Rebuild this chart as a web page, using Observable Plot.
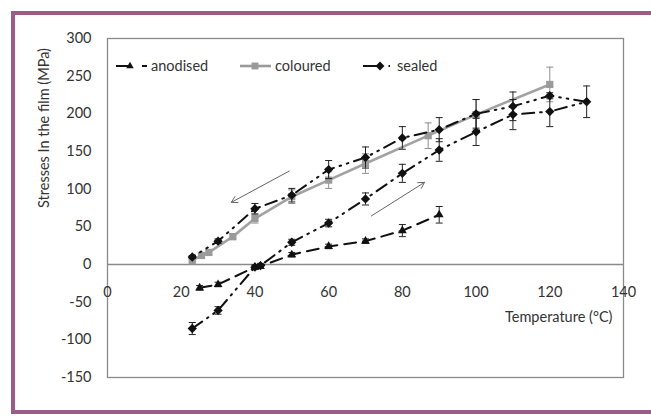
<!DOCTYPE html>
<html>
<head>
<meta charset="utf-8">
<script src="https://cdn.jsdelivr.net/npm/d3@7"></script>
<script src="https://cdn.jsdelivr.net/npm/@observablehq/plot@0.6"></script>
<style>
  html, body { margin: 0; padding: 0; background: #fff; }
  #wrap { position: relative; width: 651px; height: 419px; overflow: hidden; font-family: Lato, "Open Sans", sans-serif; }
  #border { position: absolute; left: 11px; top: 11px; width: 660px; height: 403px; border: 4px solid #9c5c88; border-right: none; box-sizing: border-box; }
  #chart { position: absolute; left: 0; top: 0; }
  #legend { position: absolute; left: 0; top: 0; }
</style>
</head>
<body>
<div id="wrap">
  <div id="border"></div>
  <div id="chart"></div>
  <svg id="legend" width="651" height="419"></svg>
</div>
<script>
// ---- data ----
const anodT = [25, 30, 40, 41.5, 50, 60, 70, 80, 90];
const anodS = [-31, -26.5, -3.5, -2.5, 13, 24, 31, 45, 66];
const anodE = [3, 3, 2, 2, 3, 3, 3, 8, 11];

const colT = [23, 25.5, 27.5, 34, 40, 50, 60, 70, 87, 100, 120];
const colS = [5, 12, 16, 37, 61, 90, 112, 134, 171, 199, 239];
const colE = [2, 3, 3, 4, 6, 9, 11, 13, 17, 20, 23];

const sealT = [23, 30, 40, 41.5, 50, 60, 70, 80, 90, 100, 110, 120, 130, 120, 110, 100, 90, 80, 70, 60, 50, 40, 30, 23];
const sealS = [-85, -61, -3.5, -1.5, 29.5, 55, 87, 121, 152, 176, 199, 203, 216, 224, 210, 200, 179, 168, 142, 126, 92, 74, 31, 10];
const sealE = [8, 5, 3, 3, 4, 5, 8, 12, 15, 18, 20, 20, 21, 4, 19, 19, 16, 15, 14, 12, 9, 7, 3, 2];

const xTicks = [0, 20, 40, 60, 80, 100, 120, 140];
const yTicks = [-150, -100, -50, 0, 50, 100, 150, 200, 250, 300];

const arrowX1 = [49.3, 71.6];
const arrowY1 = [124, 64.5];
const arrowX2 = [33.6, 86];
const arrowY2 = [82.5, 109];

const seriesNames = ["anodised", "coloured", "sealed"];

const mk = (T, S, E) => T.map((t, i) => ({x: t, y: S[i], e: E[i]}));
const anod = mk(anodT, anodS, anodE);
const col = mk(colT, colS, colE);
const seal = mk(sealT, sealS, sealE);
const arrows = arrowX1.map((d, i) => ({x1: d, y1: arrowY1[i], x2: arrowX2[i], y2: arrowY2[i]}));

const cap = {draw(ctx) { ctx.moveTo(-3.5, 0); ctx.lineTo(3.5, 0); }};

function errMarks(data, color) {
  return [
    Plot.ruleX(data, {x: "x", y1: d => d.y - d.e, y2: d => d.y + d.e, stroke: color, strokeWidth: 1}),
    Plot.dot(data, {x: "x", y: d => d.y - d.e, symbol: cap, stroke: color, strokeWidth: 1}),
    Plot.dot(data, {x: "x", y: d => d.y + d.e, symbol: cap, stroke: color, strokeWidth: 1})
  ];
}

const chart = Plot.plot({
  width: 651,
  height: 419,
  marginLeft: 107,
  marginRight: 28,
  marginTop: 38,
  marginBottom: 42,
  style: {background: "transparent", fontFamily: "Lato, 'Open Sans', sans-serif"},
  x: {domain: [0, 140], axis: null},
  y: {domain: [-150, 300], axis: null},
  marks: [
    Plot.frame({stroke: "#8a8a8a", strokeWidth: 1.3}),
    Plot.ruleY([0], {stroke: "#8a8a8a", strokeWidth: 1.3}),
    Plot.text(yTicks, {frameAnchor: "left", y: d => d, text: d => String(d), textAnchor: "end", dx: -16, fontSize: 14.5, fill: "#333"}),
    Plot.text(xTicks, {x: d => d, y: 0, text: d => String(d), dy: 28, fontSize: 14.5, fill: "#333"}),
    Plot.text(["Stresses In the film (MPa)"], {frameAnchor: "left", rotate: -90, dx: -63, fontSize: 14.5, fill: "#333"}),
    Plot.text(["Temperature (°C)"], {frameAnchor: "right", y: -70, textAnchor: "end", dx: -11, fontSize: 14.5, fill: "#333"}),
    Plot.arrow(arrows, {x1: "x1", y1: "y1", x2: "x2", y2: "y2", stroke: "#666", strokeWidth: 1, headLength: 10}),
    // anodised
    ...errMarks(anod, "#222"),
    Plot.line(anod, {x: "x", y: "y", stroke: "#111", strokeWidth: 2, strokeDasharray: "12,7"}),
    Plot.dot(anod, {x: "x", y: "y", symbol: "triangle2", r: 4.2, fill: "#111"}),
    // coloured
    ...errMarks(col, "#8e8e8e"),
    Plot.line(col, {x: "x", y: "y", stroke: "#a2a2a2", strokeWidth: 2.6}),
    Plot.dot(col, {x: "x", y: "y", symbol: "square2", r: 4.6, fill: "#9a9a9a"}),
    // sealed
    ...errMarks(seal, "#222"),
    Plot.line(seal, {x: "x", y: "y", stroke: "#111", strokeWidth: 2, strokeDasharray: "12,6,1.6,6,1.6,6"}),
    Plot.dot(seal, {x: "x", y: "y", symbol: "diamond2", r: 4.2, fill: "#111"})
  ]
});
document.getElementById("chart").appendChild(chart);

// ---- legend ----
const lg = d3.select("#legend");
const ly = 66;
const items = [
  {name: seriesNames[0], lx1: 116, lx2: 130, mx: 130, sym: d3.symbolTriangle2, color: "#111", extra: [[142, 147]], tx: 151, size: 40, sw: 2},
  {name: seriesNames[1], lx1: 240, lx2: 271, mx: 255, sym: d3.symbolSquare2, color: "#9a9a9a", extra: [], tx: 275, size: 60, sw: 2.6},
  {name: seriesNames[2], lx1: 363, lx2: 380, mx: 380, sym: d3.symbolDiamond2, color: "#111", extra: [[388.5, 390]], tx: 397, size: 50, sw: 2}
];
items.forEach(it => {
  lg.append("line").attr("x1", it.lx1).attr("x2", it.lx2).attr("y1", ly).attr("y2", ly)
    .attr("stroke", it.color).attr("stroke-width", it.sw);
  it.extra.forEach(([a, b]) => lg.append("line").attr("x1", a).attr("x2", b).attr("y1", ly).attr("y2", ly)
    .attr("stroke", it.color).attr("stroke-width", 2));
  lg.append("path").attr("d", d3.symbol(it.sym, it.size)()).attr("transform", `translate(${it.mx},${ly})`).attr("fill", it.color);
  lg.append("text").attr("x", it.tx).attr("y", ly).attr("dy", "0.35em").attr("font-size", 14.5)
    .attr("font-family", "Lato, 'Open Sans', sans-serif").attr("fill", "#333").text(it.name);
});
</script>
</body>
</html>
